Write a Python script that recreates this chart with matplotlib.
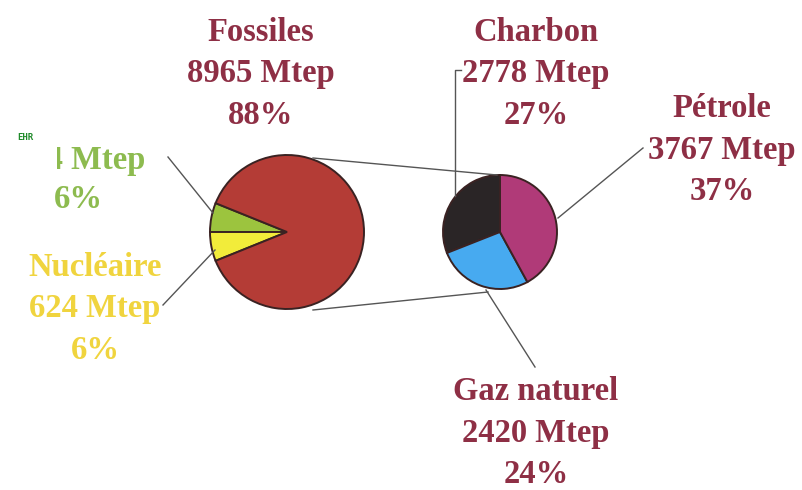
import matplotlib
matplotlib.use("Agg")
import matplotlib.pyplot as plt
from matplotlib.patches import Rectangle

# Consommation mondiale d'énergie primaire (Mtep)
main_labels = ["EHR", "Nucléaire", "Fossiles"]
main_values = [624, 624, 8965]
main_shares = ["6%", "6%", "88%"]
main_colors = ["#9cc43e", "#f2ec3a", "#b43c36"]

fossil_labels = ["Charbon", "Gaz naturel", "Pétrole"]
fossil_values = [2778, 2420, 3767]
fossil_shares = ["27%", "24%", "37%"]
fossil_colors = ["#2a2526", "#47aaf0", "#b03a78"]

W, H = 802, 490
fig = plt.figure(figsize=(W / 100, H / 100), dpi=100)
ax = fig.add_axes([0, 0, 1, 1])


def Y(y):
    return H - y


edge = dict(edgecolor="#3a2222", linewidth=1.4)

# main pie
ehr_angle = 360 * main_values[0] / sum(main_values)
ax.pie(main_values, colors=main_colors, startangle=180 - ehr_angle,
       counterclock=True, center=(287, Y(232)), radius=77,
       wedgeprops=edge, frame=True)

# fossil breakdown
ax.pie(fossil_values, colors=fossil_colors, startangle=90,
       counterclock=True, center=(500, Y(232)), radius=57,
       wedgeprops=edge, frame=True)
ax.set_xlim(0, W)
ax.set_ylim(0, H)
ax.set_aspect("equal")
ax.axis("off")

line_kw = dict(color="#555555", linewidth=1.0)
# links between the two pies
ax.plot([313, 497], [Y(158), Y(175)], **line_kw)
ax.plot([313, 488], [Y(310), Y(292)], **line_kw)

# leader lines
ax.plot([461, 455, 455], [Y(70), Y(70), Y(196)], **line_kw)
ax.plot([643, 558], [Y(148), Y(218)], **line_kw)
ax.plot([486, 535], [Y(290), Y(367)], **line_kw)
ax.plot([168, 213], [Y(157), Y(213)], **line_kw)
ax.plot([163, 215], [Y(305), Y(250)], **line_kw)

font = dict(family="Liberation Serif", fontweight="bold", fontsize=23.5,
            ha="center", va="center", linespacing=1.42)
maroon = "#8e2f45"


def label(x, y, name, value, share, color):
    txt = f"{name}\n{value} Mtep\n{share}"
    return ax.text(x, Y(y), txt, color=color, **font)


label(261, 74, "Fossiles", main_values[2], main_shares[2], maroon)
label(536, 74, "Charbon", fossil_values[0], fossil_shares[0], maroon)
label(722, 150, "Pétrole", fossil_values[2], fossil_shares[2], maroon)
label(536, 433, "Gaz naturel", fossil_values[1], fossil_shares[1], maroon)
label(95, 309, "Nucléaire", main_values[1], main_shares[1], "#f0d43e")

# renewables label, its left part cut at the margin
ehr_green = "#8dbb4f"
ehr_value = ax.text(80, Y(160), f"{main_values[0]} Mtep", color=ehr_green,
                    clip_on=True, **font)
ehr_value.set_clip_path(Rectangle((57, 0), W, H, transform=ax.transData))
ax.text(78, Y(200), main_shares[0], color=ehr_green, **font)

ax.text(17, Y(138), "EHR", color="#1f8a2a", family="DejaVu Sans Mono",
        fontweight="bold", fontsize=6.5, ha="left", va="center")

fig.savefig("out.png", dpi=100, facecolor="white")
